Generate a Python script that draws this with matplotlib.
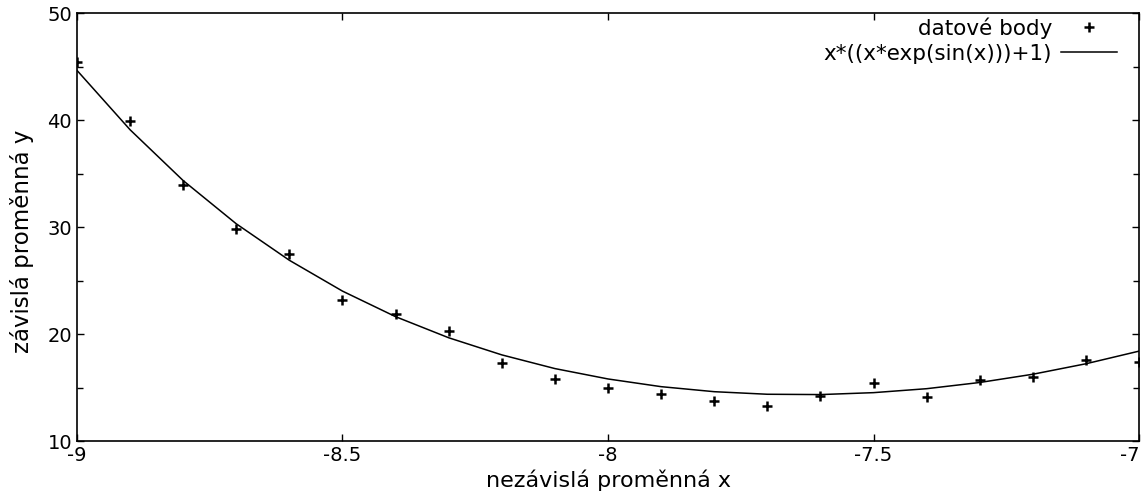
import matplotlib.pyplot as plt
from matplotlib.ticker import MultipleLocator

# data points
x_data = [-9.0, -8.9, -8.8, -8.7, -8.6, -8.5, -8.4, -8.3, -8.2, -8.1, -8.0,
          -7.9, -7.8, -7.7, -7.6, -7.5, -7.4, -7.3, -7.2, -7.1, -7.0]
y_data = [45.4, 39.9, 33.9, 29.8, 27.5, 23.2, 21.9, 20.3, 17.3, 15.8, 15.0,
          14.4, 13.7, 13.3, 14.2, 15.4, 14.1, 15.7, 16.0, 17.6, 17.4]

# fitted curve, values
x_curve = [-9.0, -8.9, -8.8, -8.7, -8.6, -8.5, -8.4, -8.3, -8.2, -8.1, -8.0,
           -7.9, -7.8, -7.7, -7.6, -7.5, -7.4, -7.3, -7.2, -7.1, -7.0]
y_curve = [44.64, 39.09, 34.34, 30.30, 26.89, 24.01, 21.62, 19.65, 18.05, 16.77, 15.80,
           15.08, 14.61, 14.37, 14.34, 14.52, 14.89, 15.47, 16.24, 17.22, 18.40]

x_ticks = [-9, -8.5, -8, -7.5, -7]
x_tick_labels = ['-9', '-8.5', '-8', '-7.5', '-7']

plt.rcParams['font.family'] = ['DejaVu Sans']
plt.rcParams['font.size'] = 14

fig = plt.figure(figsize=(11.42, 4.91), dpi=100)
ax = fig.add_axes([0.0674, 0.1018, 0.9300, 0.8717])

ax.plot(x_data, y_data, linestyle='none', marker='+', color='black',
        markersize=7, markeredgewidth=1.8, label='datové body')
ax.plot(x_curve, y_curve, color='black', linewidth=1.1,
        label='x*((x*exp(sin(x)))+1)')

ax.set_xlim(-9, -7)
ax.set_ylim(10, 50)
ax.set_xticks(x_ticks)
ax.set_xticklabels(x_tick_labels)
ax.get_xticklabels()[-1].set_ha('right')
ax.yaxis.set_major_locator(MultipleLocator(10))
ax.yaxis.set_minor_locator(MultipleLocator(5))

ax.tick_params(which='both', direction='in', top=True, right=True,
               labelsize=14, width=1.0)
ax.tick_params(which='major', length=5)
ax.tick_params(which='minor', length=4)
for s in ax.spines.values():
    s.set_linewidth(1.2)

ax.set_xlabel('nezávislá proměnná x', fontsize=16)
ax.xaxis.set_label_coords(0.5, -0.066)
ax.set_ylabel('závislá proměnná y', fontsize=16.5)
ax.yaxis.set_label_coords(-0.052, 0.467)
ax.yaxis.label.set_va('center')

ax.legend(loc='upper right', bbox_to_anchor=(0.979, 0.99), frameon=False,
          markerfirst=False, handlelength=2.6, handletextpad=0.4,
          labelspacing=0.23, borderaxespad=0, borderpad=0, fontsize=15.5)

fig.savefig('out.png', dpi=100)
